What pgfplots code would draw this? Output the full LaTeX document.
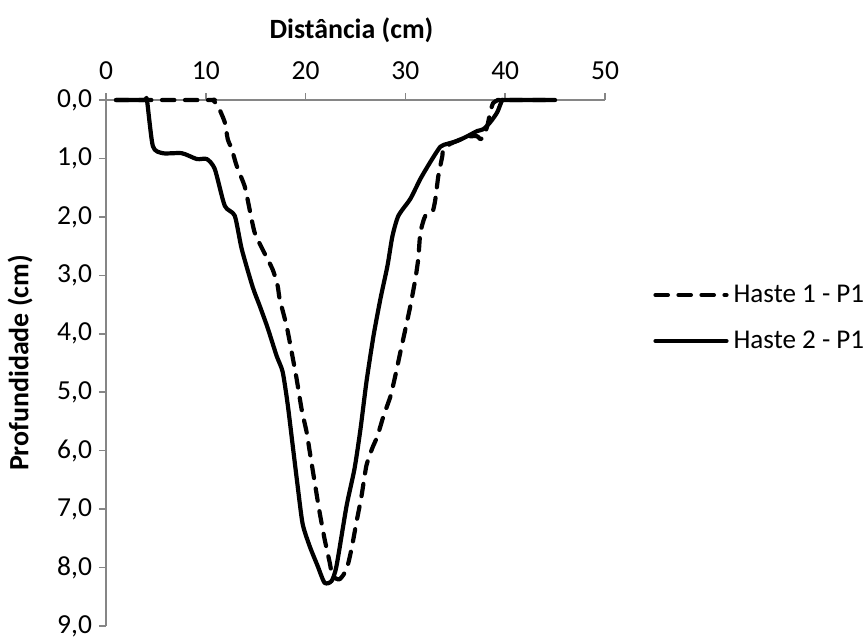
\documentclass[border=0pt]{standalone}
\usepackage{fontspec}
\setmainfont{Carlito}
\usepackage{pgfplots}
\pgfplotsset{compat=1.18}
\definecolor{axgray}{RGB}{134,134,134}
\begin{document}
\begin{tikzpicture}
\useasboundingbox (-53bp,-5.5bp) rectangle (379.5bp,313bp);
\begin{axis}[
  at={(0,0)}, anchor=south west,
  scale only axis, width=249.5bp, height=263bp,
  xmin=0, xmax=50, ymin=0, ymax=9,
  y dir=reverse,
  axis x line=top, axis y line=left,
  axis line style={-, draw=axgray, line width=0.75bp},
  xtick={0,10,20,30,40,50}, xticklabels={0,10,20,30,40,50},
  ytick={0,1,2,3,4,5,6,7,8,9},
  yticklabels={{0,0},{1,0},{2,0},{3,0},{4,0},{5,0},{6,0},{7,0},{8,0},{9,0}},
  tick align=outside, major tick length=3.5bp,
  tick style={draw=axgray, line width=0.75bp},
  font=\fontsize{13.8}{16}\selectfont,
  tick label style={font=\fontsize{13.8}{16}\selectfont},
  xticklabel style={yshift=3bp},
  clip=false,
  title={Distância (cm)},
  title style={at={(axis description cs:0.5,1)}, anchor=center, yshift=29bp, xshift=-2bp, font=\fontsize{14}{16}\selectfont\bfseries},
  ylabel={Profundidade (cm)},
  ylabel style={at={(axis description cs:-0.1723,0.5)}, anchor=center, rotate=0, font=\fontsize{14}{16}\selectfont\bfseries},
  legend style={at={(axis description cs:1.097,0.5875)}, anchor=west, draw=none, fill=none,
    inner sep=0pt, outer sep=0pt, row sep=14bp,
    nodes={inner sep=0pt, text height=9bp, text depth=0pt},
    /tikz/every odd column/.append style={column sep=2.5bp},
    font=\fontsize{13.6}{16}\selectfont},
  legend cell align=left,
  legend image code/.code={\draw[#1] (0bp,-0.5bp) -- (35.5bp,-0.5bp);},
]
\addplot[black, line width=2.1bp, line cap=round, line join=round, dash pattern=on 6.2bp off 5.3bp, smooth, tension=0.4] coordinates {
(1,0) (10.4,0) (10.7,0) (11.2,0.10) (11.9,0.38) (12.2,0.67) (12.6,0.84) (13.1,1.13) (13.9,1.48)
(14.4,1.88) (14.9,2.27) (15.7,2.56) (16.7,2.90) (17.2,3.18) (17.4,3.40) (18.1,3.87)
(18.6,4.31) (19.1,4.77) (19.6,5.29) (20.1,5.68) (20.4,6.0) (20.9,6.53) (21.4,7.05)
(21.9,7.51) (22.4,7.90) (22.7,8.14) (23.4,8.20) (24.1,8.03) (24.6,7.68) (25.1,7.22)
(25.6,6.78) (26.1,6.25) (26.7,5.95) (27.2,5.75) (27.8,5.41) (28.5,5.07) (29.0,4.71)
(29.5,4.31) (30.0,3.92) (30.5,3.52) (31.0,3.06) (31.3,2.70) (31.5,2.27) (32.0,1.98)
(32.7,1.92) (33.0,1.70) (33.3,1.30) (33.7,0.96) (33.8,0.84) (34.5,0.75) (36.2,0.63)
(37.2,0.62) (37.5,0.67) (37.8,0.63) (38.2,0.45) (38.5,0.21) (38.8,0.05) (39.3,0) (39.6,0) (45,0)
};
\addlegendentry{Haste 1 - P1}
\addplot[black, line width=2.1bp, line cap=round, line join=round, smooth, tension=0.4] coordinates {
(1,0) (3.8,0) (4.1,0) (4.7,0.79) (5.7,0.91) (7.6,0.91) (9.1,1.01) (10.1,1.01) (10.9,1.18)
(11.9,1.81) (12.9,1.98) (13.6,2.55) (14.7,3.20) (15.4,3.52) (16.2,3.90) (17.1,4.38)
(17.7,4.65) (18.2,5.20) (18.7,5.90) (19.2,6.60) (19.7,7.25) (20.4,7.63) (21.2,7.97)
(21.9,8.26) (22.6,8.23) (23.1,7.97) (24.1,6.95) (24.9,6.31) (25.5,5.63) (26.1,4.82)
(26.8,4.04) (27.5,3.40) (28.2,2.84) (28.7,2.33) (29.3,1.98) (30.5,1.69) (31.5,1.35)
(32.5,1.06) (33.5,0.80) (34.2,0.75) (35.2,0.70) (36.2,0.62) (37.2,0.53) (37.8,0.50)
(38.5,0.38) (39.2,0.21) (39.7,0) (40.0,0) (45,0)
};
\addlegendentry{Haste 2 - P1}
\end{axis}
\end{tikzpicture}
\end{document}
